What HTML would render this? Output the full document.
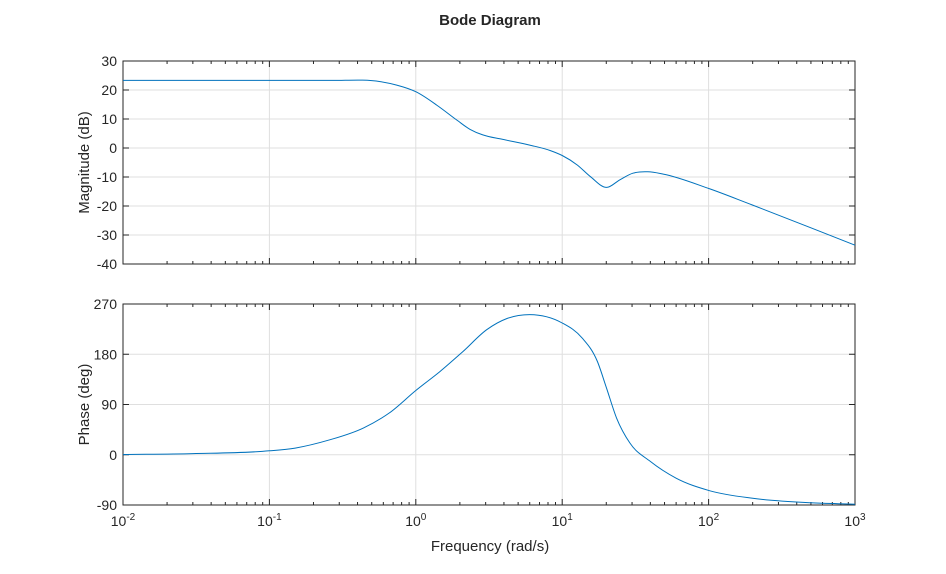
<!DOCTYPE html>
<html><head><meta charset="utf-8"><style>
body{margin:0;background:#fff;font-family:"Liberation Sans",sans-serif}
svg text{font-family:"Liberation Sans",sans-serif;fill:#262626}
</style></head><body>
<svg id="c" width="946" height="569"></svg>
<script>
const freqMag=[0.01,0.03,0.1,0.26,0.57,0.74,1.0,1.39,1.9,2.35,2.87,3.9,6.0,8.3,10,12.7,15.6,20.1,24.7,30.4,38.5,49,102,200,500,1000];
const magDb=[23.3,23.3,23.3,23.3,22.9,21.7,19.4,14.8,9.7,6.4,4.5,3.0,1.0,-0.9,-2.6,-5.9,-9.9,-13.6,-11,-8.7,-8.2,-9,-14.1,-19.7,-27.5,-33.5];
const freqPh=[0.01,0.03,0.1,0.15,0.26,0.44,0.66,1.0,1.46,2.1,3.05,4.2,6.0,10,13.7,17.4,20.1,23.5,29,40,60,102,200,500,1000];
const phaseDeg=[0.5,2,7,12,27,48,75,115,149,185,224,244,251,236,209,167,119,66,21,-12,-42,-64.5,-78,-86,-88.5];
const magTicks=[30,20,10,0,-10,-20,-30,-40];
const phTicks=[270,180,90,0,-90];
const decades=[-2,-1,0,1,2,3];
const NS='http://www.w3.org/2000/svg';
const svg=document.getElementById('c');
const X0=123,X1=855;
const xs=f=>X0+(Math.log10(f)+2)/5*(X1-X0);
function mk(t,a,p){const e=document.createElementNS(NS,t);for(const k in a)e.setAttribute(k,a[k]);(p||svg).appendChild(e);return e;}
function txt(x,y,s,anchor,size,extra){const t=mk('text',Object.assign({x:x,y:y,'text-anchor':anchor,'font-size':size},extra||{}));t.textContent=s;return t;}
// monotone-x cubic (Fritsch-Carlson style tangents) through points
function smooth(pts){
 const n=pts.length,m=[];
 const d=[];for(let i=0;i<n-1;i++)d.push((pts[i+1][1]-pts[i][1])/(pts[i+1][0]-pts[i][0]));
 for(let i=0;i<n;i++){
  if(i===0)m.push(d[0]);else if(i===n-1)m.push(d[n-2]);
  else{const h0=pts[i][0]-pts[i-1][0],h1=pts[i+1][0]-pts[i][0];
   m.push((d[i-1]*h1+d[i]*h0)/(h0+h1));}
 }
 let s='M'+pts[0][0].toFixed(1)+','+pts[0][1].toFixed(1);
 for(let i=0;i<n-1;i++){const h=(pts[i+1][0]-pts[i][0])/3;
  s+=' C'+(pts[i][0]+h).toFixed(1)+','+(pts[i][1]+m[i]*h).toFixed(1)+' '+(pts[i+1][0]-h).toFixed(1)+','+(pts[i+1][1]-m[i+1]*h).toFixed(1)+' '+pts[i+1][0].toFixed(1)+','+pts[i+1][1].toFixed(1);}
 return s;}
function axes(name,Y0,Y1,ticks,fx,vals,showX,ylabel){
 const vmax=ticks[0],vmin=ticks[ticks.length-1];
 const ys=v=>Y0+(vmax-v)/(vmax-vmin)*(Y1-Y0);
 const g=mk('g',{});  
 mk('rect',{x:X0,y:Y0,width:X1-X0,height:Y1-Y0,fill:'#fff'},g);
 decades.forEach(d=>{const x=xs(Math.pow(10,d));mk('line',{x1:x,x2:x,y1:Y0,y2:Y1,stroke:'#dfdfdf','stroke-width':1},g);
  if(d<3)for(let m=2;m<10;m++){const xm=xs(m*Math.pow(10,d));mk('line',{x1:xm,x2:xm,y1:Y1,y2:Y1-3,stroke:'#262626'},g);mk('line',{x1:xm,x2:xm,y1:Y0,y2:Y0+3,stroke:'#262626'},g);}
  mk('line',{x1:x,x2:x,y1:Y1,y2:Y1-6,stroke:'#262626'},g);mk('line',{x1:x,x2:x,y1:Y0,y2:Y0+6,stroke:'#262626'},g);
  if(showX){const t=txt(x,Y1+21,'10','middle',14);const s=mk('tspan',{dy:-6,'font-size':10},t);s.textContent=String(d);}});
 ticks.forEach(v=>{const y=ys(v);mk('line',{x1:X0,x2:X1,y1:y,y2:y,stroke:'#dfdfdf'},g);
  mk('line',{x1:X0,x2:X0+6,y1:y,y2:y,stroke:'#262626'},g);mk('line',{x1:X1,x2:X1-6,y1:y,y2:y,stroke:'#262626'},g);
  txt(X0-6,y+5,String(v),'end',14);});
 mk('rect',{x:X0,y:Y0,width:X1-X0,height:Y1-Y0,fill:'none',stroke:'#262626','stroke-width':1},g);
 const pts=fx.map((f,i)=>[xs(f),ys(vals[i])]);
 const p=mk('path',{d:smooth(pts),fill:'none',stroke:'#0072bd','stroke-width':1},g);
  
 const yl=txt(0,0,ylabel,'middle',15,{transform:'translate('+(X0-34)+','+((Y0+Y1)/2)+') rotate(-90)'});
  
}
axes('magnitude',61,264,magTicks,freqMag,magDb,false,'Magnitude (dB)');
axes('phase',304,505,phTicks,freqPh,phaseDeg,true,'Phase (deg)');
const t=txt(490,25,'Bode Diagram','middle',15,{'font-weight':'bold'});
 
const xl=txt(490,551,'Frequency (rad/s)','middle',15);
 
</script>
</body></html>
